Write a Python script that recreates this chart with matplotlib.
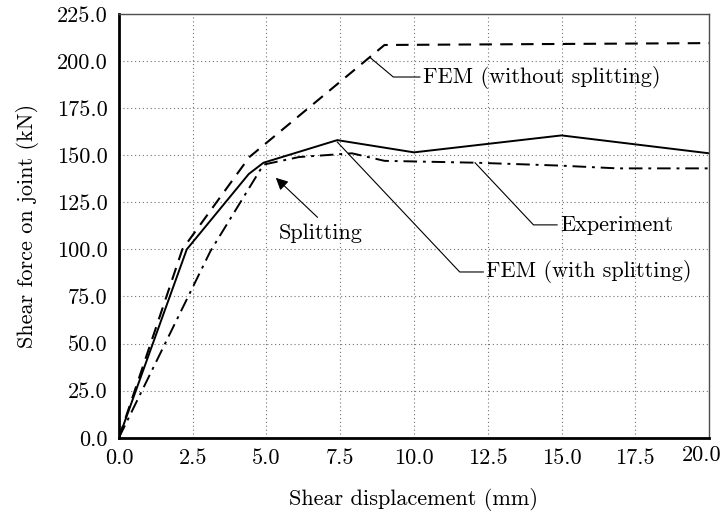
import matplotlib
matplotlib.use("Agg")
import matplotlib.pyplot as plt
import matplotlib.transforms as mtransforms
import numpy as np

plt.rcParams['font.family'] = ['cmr10', 'DejaVu Serif']
plt.rcParams['axes.formatter.use_mathtext'] = True

# data
exp_x = [0, 3.1, 4.9, 6.1, 7.9, 9.0, 12.1, 14.9, 16.9, 20.0]
exp_y = [0, 99, 145, 149, 151, 147, 146, 144.5, 143, 143]

split_x = [0, 2.3, 4.4, 4.9, 7.4, 10.0, 15.0, 20.0]
split_y = [0, 100, 140, 146, 158, 151.5, 160.5, 151]

nosplit_x = [0, 2.15, 4.42, 9.0, 20.0]
nosplit_y = [0, 100, 149, 208.5, 209.5]

xticks = [0, 2.5, 5, 7.5, 10, 12.5, 15, 17.5, 20]
yticks = [0, 25, 50, 75, 100, 125, 150, 175, 200, 225]

fs = 16

fig = plt.figure(figsize=(7.25, 5.15), dpi=100)
ax = fig.add_axes([0.164, 0.150, 0.814, 0.823])

ax.plot(nosplit_x, nosplit_y, color='black', lw=1.5, linestyle=(0, (6, 4)))
ax.plot(split_x, split_y, color='black', lw=1.4)
ax.plot(exp_x, exp_y, color='black', lw=1.4, linestyle=(0, (7, 3, 1.5, 3)))

ax.set_xlim(0, 20)
ax.set_ylim(0, 225)
ax.set_xticks(xticks)
ax.set_yticks(yticks)
ax.set_xticklabels(['%.1f' % v for v in xticks], fontsize=fs)
ax.set_yticklabels(['%.1f' % v for v in yticks], fontsize=fs)
ax.tick_params(length=0, pad=8)
ax.grid(True, color='0.45', lw=0.8, linestyle=(0, (1, 2.5)))

# last x label sits a bit left and up, as in the scan
last = ax.get_xticklabels()[-1]
last.set_transform(last.get_transform() +
                   mtransforms.ScaledTranslation(-0.07, 0.03, fig.dpi_scale_trans))

for s in ['left', 'bottom']:
    ax.spines[s].set_linewidth(2)
for s in ['top', 'right']:
    ax.spines[s].set_linewidth(1)
    ax.spines[s].set_color('0.3')

ax.set_xlabel('Shear displacement (mm)', fontsize=fs, labelpad=14)
ax.set_ylabel('Shear force on joint (kN)', fontsize=fs, labelpad=13)

lead = dict(color='black', lw=0.8)
# FEM (without splitting)
ax.plot([8.5, 9.3, 10.2], [202, 191.5, 191.5], **lead)
ax.text(10.3, 191.5, 'FEM (without splitting)', fontsize=fs, va='center', ha='left')
# Experiment
ax.plot([12.07, 14.05, 14.85], [146, 113, 113], **lead)
ax.text(14.95, 113, 'Experiment', fontsize=fs, va='center', ha='left')
# FEM (with splitting)
ax.plot([7.4, 11.55, 12.35], [157, 88, 88], **lead)
ax.text(12.45, 88, 'FEM (with splitting)', fontsize=fs, va='center', ha='left')
# Splitting arrow
ax.annotate('', xy=(5.25, 139), xytext=(6.8, 116),
            arrowprops=dict(arrowstyle='-|>', color='black', lw=0.8,
                            mutation_scale=18))
ax.text(6.83, 108.5, 'Splitting', fontsize=fs, va='center', ha='center')

fig.savefig('out.png', dpi=100)
